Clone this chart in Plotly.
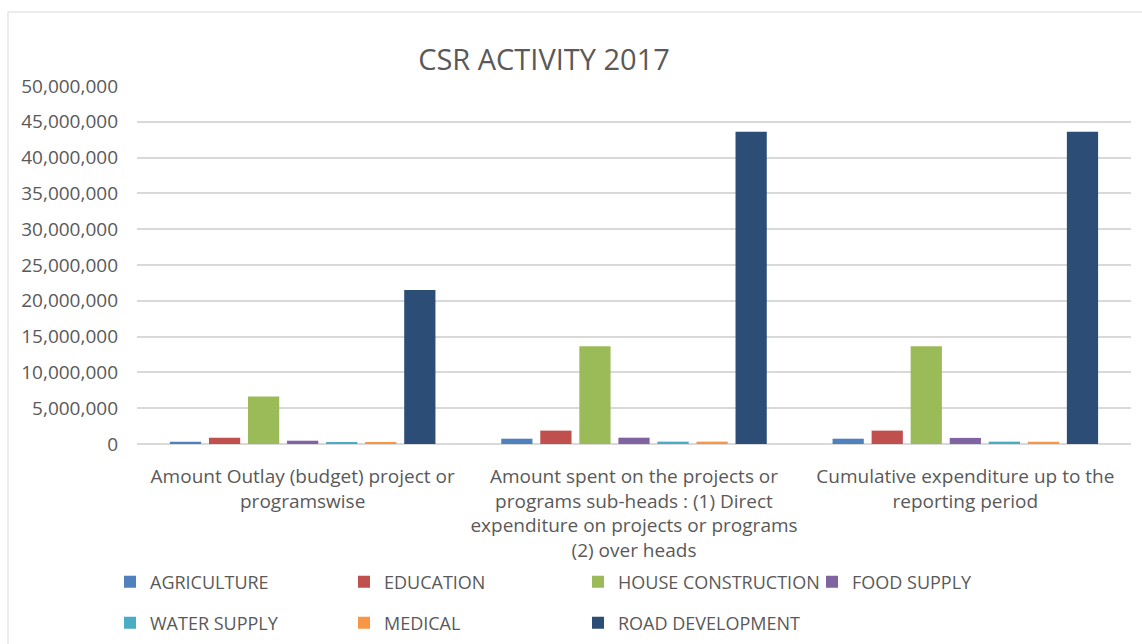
import plotly.graph_objects as go

categories = [
    "Amount Outlay (budget) project or<br>programswise",
    "Amount spent on the projects or<br>programs sub-heads : (1) Direct<br>expenditure on projects or programs<br>(2) over heads",
    "Cumulative expenditure up to the<br>reporting period",
]
series_names = ["AGRICULTURE", "EDUCATION", "HOUSE CONSTRUCTION", "FOOD SUPPLY",
                "WATER SUPPLY", "MEDICAL", "ROAD DEVELOPMENT"]
agriculture = [320000, 740000, 740000]
education = [880000, 1870000, 1870000]
house_construction = [6650000, 13650000, 13650000]
food_supply = [460000, 880000, 850000]
water_supply = [180000, 330000, 330000]
medical = [180000, 330000, 330000]
road_development = [21500000, 43600000, 43600000]
series_values = [agriculture, education, house_construction, food_supply,
                 water_supply, medical, road_development]
colors = ["#4F81BD", "#C0504D", "#9BBB59", "#8064A2", "#4BACC6", "#F79646", "#2C4D75"]
y_ticks = list(range(0, 50000001, 5000000))

W, H = 1142, 644
ML, MR, MT, MB = 137, 11, 86, 200
PW, PH = W - ML - MR, H - MT - MB
FONT = "Open Sans"
GREY = "#595959"

fig = go.Figure()
for i, (name, vals, col) in enumerate(zip(series_names, series_values, colors)):
    fig.add_trace(go.Bar(
        x=categories, y=vals, name=name, marker_color=col,
        marker_line_width=0,
        legend="legend" if i < 4 else "legend2",
    ))

legend_common = dict(
    orientation="h", xref="container", yref="container",
    xanchor="left", yanchor="middle",
    font=dict(family=FONT, size=18, color=GREY),
    entrywidth=189, entrywidthmode="pixels",
    bgcolor="rgba(0,0,0,0)", itemclick=False, itemdoubleclick=False,
)

fig.update_layout(
    width=W, height=H,
    margin=dict(l=ML, r=MR, t=MT, b=MB, autoexpand=False),
    paper_bgcolor="white", plot_bgcolor="white",
    barmode="group", bargap=0.175, bargroupgap=0.2,
    title=dict(text="CSR ACTIVITY 2017", x=544 / W, xanchor="center",
               y=1 - 60 / H, yanchor="middle", yref="container",
               font=dict(family=FONT, size=29, color=GREY)),
    font=dict(family=FONT, color=GREY),
    legend=dict(x=110 / W, y=1 - 582 / H, **legend_common),
    legend2=dict(x=110 / W, y=1 - 623 / H, **legend_common),
    showlegend=True,
    xaxis=dict(showgrid=False, showline=False, zeroline=False, ticks="",
               tickfont=dict(family=FONT, size=19, color=GREY),
               ticklabelstandoff=19, tickangle=0, automargin=False),
    yaxis=dict(range=[0, 50000000], tickvals=y_ticks, tickformat=",",
               showgrid=True, gridcolor="#D9D9D9", gridwidth=1.5,
               zeroline=True, zerolinecolor="#D9D9D9", zerolinewidth=1.5,
               showline=False, ticks="", automargin=False,
               tickfont=dict(family=FONT, size=19, color=GREY),
               ticklabelstandoff=18),
    shapes=[dict(type="rect", xref="paper", yref="paper",
                 x0=(8 - ML) / PW, x1=(W + 10 - ML) / PW,
                 y0=-(H + 10 - MT - PH) / PH, y1=(MT + PH - 12) / PH,
                 line=dict(color="#D9D9D9", width=1), fillcolor="rgba(0,0,0,0)",
                 layer="below")],
)

fig.write_html("out.html")
